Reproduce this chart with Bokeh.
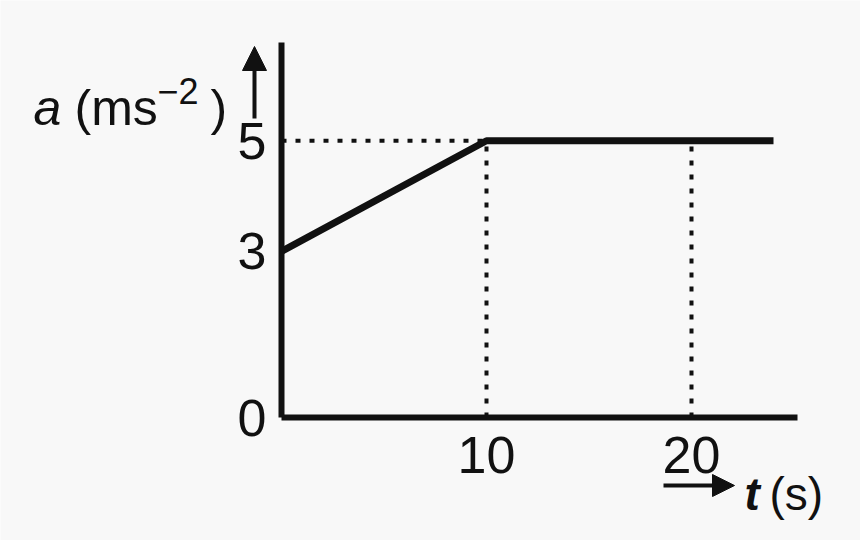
from bokeh.models import Range1d, FixedTicker, Label, Arrow, NormalHead, LinearAxis
from bokeh.plotting import figure
from bokeh.embed import file_html
from bokeh.resources import INLINE

# acceleration-time sketch: a rises 3 -> 5 over the first 10 s, then stays at 5
t_knots = [0, 10, 24]
a_knots = [3, 5, 5]
guide_t = [10, 20]      # dotted drop lines
a_ticks = [0, 3, 5]
t_ticks = [10, 20]

FONT = "Liberation Sans"
INK = "#111111"
BG = "#f8f8f8"

W, H = 860, 540
# px per unit, chosen to sit the ticks near the (not-to-scale) sketch
kx, ky = 20.5, 55.35
X0, Y0 = 281, 417          # canvas position of the origin


def px_t(x):
    return (x - X0) / kx


def py_a(y):
    return (Y0 - y) / ky


# the frame fills the whole canvas so the hand-placed labels are not clipped
p = figure(width=W, height=H, min_border=0,
           x_range=Range1d(px_t(0), px_t(W)),
           y_range=Range1d(py_a(H), py_a(0)),
           x_axis_location=None, y_axis_location=None,
           output_backend="svg", toolbar_location=None, tools="")
p.background_fill_color = BG
p.border_fill_color = BG
p.outline_line_color = None
p.grid.grid_line_color = None

xax = LinearAxis(fixed_location=0, bounds=(0, px_t(797)),
                 ticker=FixedTicker(ticks=t_ticks), major_label_standoff=13)
yax = LinearAxis(fixed_location=0, bounds=(0, py_a(42)),
                 ticker=FixedTicker(ticks=a_ticks), major_label_standoff=9)
for ax in (xax, yax):
    ax.axis_line_color = INK
    ax.axis_line_width = 6
    ax.major_tick_line_color = None
    ax.minor_tick_line_color = None
    ax.major_label_text_font = FONT
    ax.major_label_text_font_size = "52px"
    ax.major_label_text_color = INK
p.add_layout(xax, "below")
p.add_layout(yax, "left")

# dotted guides
hx0 = [0] + guide_t
hy0 = [a_knots[1]] + [0] * len(guide_t)
hx1 = [t_knots[1]] + guide_t
hy1 = [a_knots[1]] * (len(guide_t) + 1)
p.segment(hx0, hy0, hx1, hy1, line_color=INK, line_width=4, line_dash="5 9")

p.line(t_knots, a_knots, line_color=INK, line_width=7)


def lab(text, x, y, size, style="normal"):
    p.add_layout(Label(x=px_t(x), y=py_a(y), text=text, text_font=FONT,
                       text_font_size=size, text_font_style=style,
                       text_color=INK, text_align="left",
                       text_baseline="alphabetic"))


# y label: a (ms^-2) with arrow
lab("a", 33, 107, "50px", "italic")
lab("(ms", 74, 107, "50px")
lab("\u22122", 157, 90, "36px")
lab(")", 210, 107, "50px")
p.add_layout(Arrow(end=NormalHead(size=24, fill_color=INK, line_color=INK),
                   x_start=px_t(254), y_start=py_a(118),
                   x_end=px_t(254), y_end=py_a(46),
                   line_color=INK, line_width=4))

# x label: t (s) with arrow
p.add_layout(Arrow(end=NormalHead(size=22, fill_color=INK, line_color=INK),
                   x_start=px_t(663), y_start=py_a(485),
                   x_end=px_t(734), y_end=py_a(485),
                   line_color=INK, line_width=4))
lab("t", 744, 493, "46px", "bold italic")
lab("(s)", 769, 493, "46px")

open("out.html", "w").write(file_html(p, INLINE))
